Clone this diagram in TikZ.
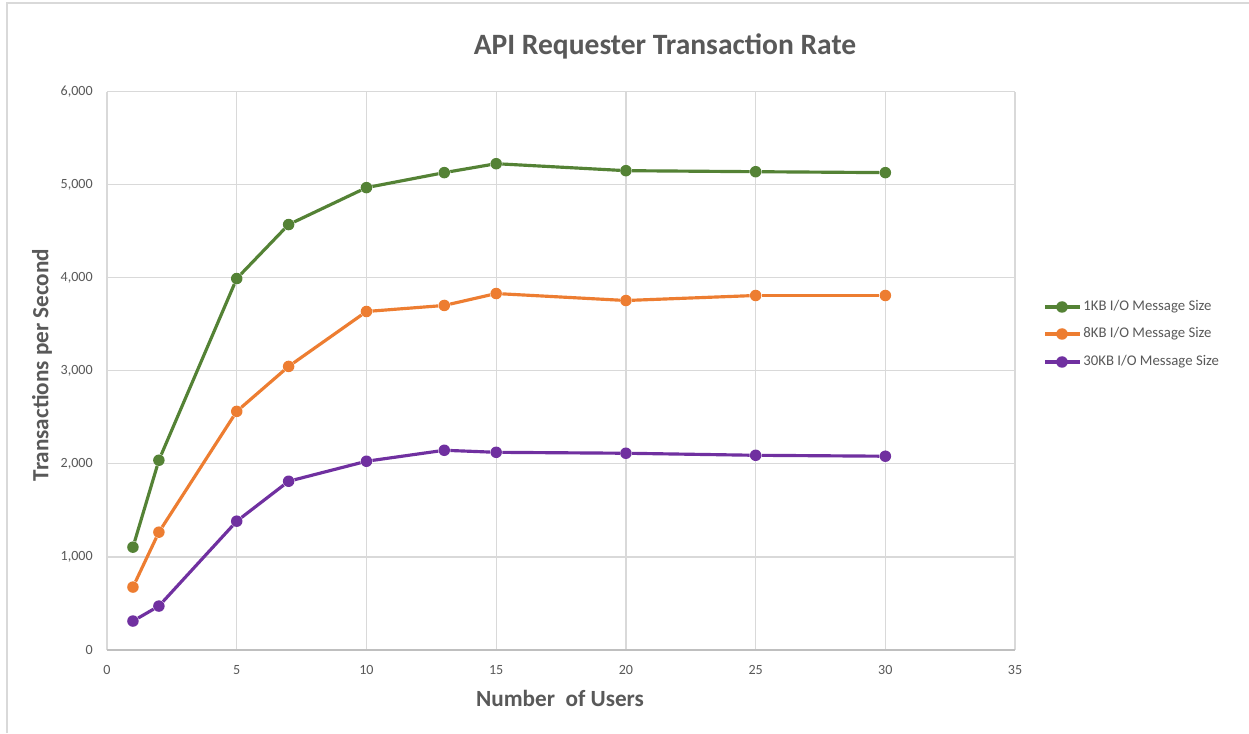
\documentclass[tikz,border=0pt]{standalone}
\usepackage{fontspec}
\setmainfont{Carlito}
\usetikzlibrary{positioning}

\definecolor{txtgray}{HTML}{595959}
\definecolor{gridgray}{HTML}{D9D9D9}
\definecolor{axisgray}{HTML}{BFBFBF}
\definecolor{framegray}{HTML}{D9D9D9}
\definecolor{kbgreen}{HTML}{548235}
\definecolor{kborange}{HTML}{ED7D31}
\definecolor{kbpurple}{HTML}{7030A0}

\tikzset{
    dot/.style={shape=circle, fill=#1, inner sep=0pt, minimum size=2.3mm},
    series/.style={draw=#1, line width=1.8pt},
    gridline/.style={draw=gridgray, line width=0.7pt},
    ticklabel/.style={text=txtgray, inner sep=0pt, font=\fontsize{8}{9}\selectfont},
    axistitle/.style={text=txtgray, inner sep=0pt, font=\bfseries\fontsize{13.2}{15}\selectfont},
    legendtext/.style={text=txtgray, inner sep=0pt, anchor=west, font=\fontsize{8.4}{10}\selectfont},
}

\begin{document}
\begin{tikzpicture}
    \useasboundingbox (0,0) rectangle (24.98,14.66);
    \fill[white] (0,0) rectangle (24.98,14.66);
    \draw[framegray, line width=0.8pt] (0.14,0) -- (0.14,14.6) -- (24.98,14.6);

    % titles
    \node[text=txtgray, font=\bfseries\fontsize{16.8}{19}\selectfont] (title) at (13.3,13.74) {API Requester Transaction Rate};
    \node[axistitle] (xtitle) at (11.2,0.70) {Number\ \ of Users};
    \node[axistitle, rotate=90] (ytitle) at (0.84,7.36) {Transactions per Second};

    % plot area
    \begin{scope}[shift={(2.14,1.66)}, x=0.5189cm, y=0.0018633cm]
        \foreach \gx in {0,5,...,35}
            \draw[gridline] (\gx,0) -- (\gx,6000);
        \foreach \gy in {1000,2000,...,6000}
            \draw[gridline] (0,\gy) -- (35,\gy);
        \draw[axisgray, line width=0.8pt] (0,0) -- (35,0);

        \foreach \gx in {0,5,...,35}
            \node[ticklabel] (xl\gx) at (\gx,0) [yshift=-0.4cm] {\gx};
        \foreach \gy/\gt in {0/0, 1000/{1,000}, 2000/{2,000}, 3000/{3,000}, 4000/{4,000}, 5000/{5,000}, 6000/{6,000}}
            \node[ticklabel, anchor=east] (yl\gy) at (0,\gy) [xshift=-0.28cm] {\gt};

        % 1KB
        \foreach \px/\py [count=\i] in {1/1105, 2/2039, 5/3991, 7/4571, 10/4968, 13/5129, 15/5225, 20/5150, 25/5139, 30/5129}
            \node[dot=kbgreen] (g\i) at (\px,\py) {};
        \foreach \i [remember=\i as \j (initially 1)] in {2,...,10}
            \draw[series=kbgreen] (g\j) -- (g\i);

        % 8KB
        \foreach \px/\py [count=\i] in {1/676, 2/1266, 5/2564, 7/3047, 10/3637, 13/3702, 15/3830, 20/3755, 25/3809, 30/3809}
            \node[dot=kborange] (o\i) at (\px,\py) {};
        \foreach \i [remember=\i as \j (initially 1)] in {2,...,10}
            \draw[series=kborange] (o\j) -- (o\i);

        % 30KB
        \foreach \px/\py [count=\i] in {1/311, 2/472, 5/1384, 7/1813, 10/2028, 13/2146, 15/2124, 20/2114, 25/2092, 30/2082}
            \node[dot=kbpurple] (p\i) at (\px,\py) {};
        \foreach \i [remember=\i as \j (initially 1)] in {2,...,10}
            \draw[series=kbpurple] (p\j) -- (p\i);
    \end{scope}

    % legend
    \foreach \ly/\lc/\lt [count=\i] in {8.52/kbgreen/1KB, 7.98/kborange/8KB, 7.42/kbpurple/30KB} {
        \coordinate (lga\i) at (20.9,\ly);
        \coordinate (lgb\i) at (21.6,\ly);
        \draw[series=\lc] (lga\i) -- (lgb\i);
        \node[dot=\lc] (lgdot\i) at (21.24,\ly) {};
        \node[legendtext, right=0.6mm of lgb\i] (lgt\i) {\lt\ I/O Message Size};
    }
\end{tikzpicture}
\end{document}
